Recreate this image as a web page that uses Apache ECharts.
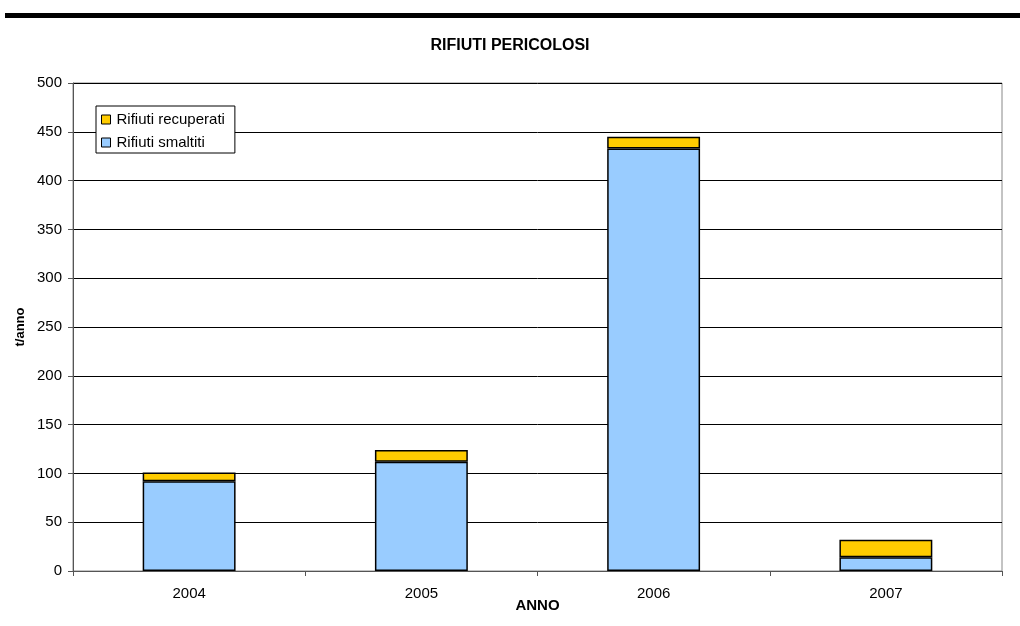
<!DOCTYPE html>
<html>
<head>
<meta charset="utf-8">
<script src="https://cdn.jsdelivr.net/npm/echarts@6/dist/echarts.min.js"></script>
<style>
  html, body { margin: 0; padding: 0; background: #fff; }
  #chart { width: 1020px; height: 626px; }
</style>
</head>
<body>
<div id="chart"></div>
<script>
const years = ['2004', '2005', '2006', '2007'];
const smaltiti = [92, 112, 433, 14];
const recuperati = [9, 12, 12, 18];
const yTicks = { min: 0, max: 500, interval: 50 };

const font = '"Liberation Sans", Arial, sans-serif';

const chart = echarts.init(document.getElementById('chart'));

chart.setOption({
  backgroundColor: '#fff',
  animation: false,
  textStyle: { fontFamily: font },
  title: {
    text: 'RIFIUTI PERICOLOSI',
    left: 'center',
    top: 33,
    textStyle: { fontFamily: font, fontSize: 16, fontWeight: 'bold', color: '#000' },
  },
  graphic: [
    {
      // thick rule across the top of the page
      type: 'rect',
      shape: { x: 5, y: 13, width: 1015, height: 5 },
      style: { fill: '#000' },
    },
  ],
  legend: {
    left: 96,
    top: 106,
    orient: 'vertical',
    icon: 'rect',
    itemWidth: 9,
    itemHeight: 9,
    itemGap: 8,
    padding: [6, 10, 3, 5],
    borderColor: '#000',
    borderWidth: 1,
    backgroundColor: '#fff',
    data: ['Rifiuti recuperati', 'Rifiuti smaltiti'],
    textStyle: { fontFamily: font, fontSize: 15, color: '#000', padding: [0, 0, 0, 1] },
    itemStyle: { borderColor: '#000', borderWidth: 1 },
  },
  grid: {
    left: 73,
    right: 18,
    top: 83,
    bottom: 55,
    show: true,
    borderColor: '#888',
    borderWidth: 1,
  },
  xAxis: {
    type: 'category',
    data: years,
    name: 'ANNO',
    nameLocation: 'middle',
    nameGap: 27,
    nameMoveOverlap: false,
    nameTextStyle: { fontFamily: font, fontSize: 15, fontWeight: 'bold', color: '#000' },
    axisLine: { lineStyle: { color: '#555' } },
    axisTick: { show: true, length: 5, lineStyle: { color: '#555' } },
    axisLabel: { fontFamily: font, fontSize: 15, color: '#000', margin: 15 },
  },
  yAxis: {
    type: 'value',
    min: yTicks.min,
    max: yTicks.max,
    interval: yTicks.interval,
    name: 't/anno',
    nameLocation: 'middle',
    nameGap: 46,
    nameMoveOverlap: false,
    nameTextStyle: { fontFamily: font, fontSize: 13, fontWeight: 'bold', color: '#000' },
    axisLine: { show: true, lineStyle: { color: '#555' } },
    axisTick: { show: true, length: 5, lineStyle: { color: '#555' } },
    axisLabel: { fontFamily: font, fontSize: 15, color: '#000', margin: 11 },
    splitLine: { lineStyle: { color: '#000', width: 1 } },
  },
  series: [
    {
      name: 'Rifiuti smaltiti',
      type: 'bar',
      stack: 'tot',
      data: smaltiti,
      barWidth: '40%',
      itemStyle: { color: '#99ccff', borderColor: '#000', borderWidth: 1.5 },
    },
    {
      name: 'Rifiuti recuperati',
      type: 'bar',
      stack: 'tot',
      data: recuperati,
      barWidth: '40%',
      itemStyle: { color: '#ffcc00', borderColor: '#000', borderWidth: 1.5 },
    },
  ],
});
</script>
</body>
</html>
